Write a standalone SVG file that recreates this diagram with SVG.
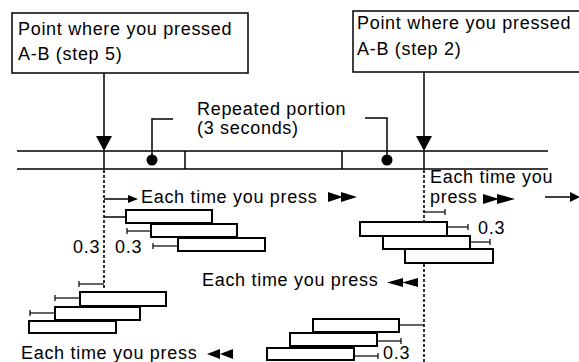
<svg xmlns="http://www.w3.org/2000/svg" width="579" height="362" viewBox="0 0 579 362">
<defs>
<style>
.t{font-family:"Liberation Sans",Arial,sans-serif;font-size:18px;letter-spacing:0.7px;fill:#000}
.box{fill:#fff;stroke:#000;stroke-width:1.5}
.bx{fill:#fff;stroke:#000;stroke-width:2}
.ln{stroke:#000;stroke-width:1.5;fill:none}
.dash{stroke:#000;stroke-width:1.6;stroke-dasharray:3 2;fill:none}
.tk{stroke:#000;stroke-width:1.2;fill:none}
.fill{fill:#000}
</style>
</defs>
<rect width="579" height="362" fill="#fff"/>

<g id="callout-step5">
<rect class="box" x="12" y="13" width="236" height="60"/>
<text class="t" x="18" y="35">Point where you pressed</text>
<text class="t" x="18" y="60">A-B (step 5)</text>
</g>
<g id="callout-step2">
<rect class="box" x="353" y="11" width="240" height="61"/>
<text class="t" x="357" y="29">Point where you pressed</text>
<text class="t" x="357" y="55">A-B (step 2)</text>
</g>
<g id="label-repeated">
<text class="t" x="197" y="115">Repeated portion</text>
<text class="t" x="197" y="134">(3 seconds)</text>
</g>

<g id="timeline-bar">
<line class="ln" x1="17" y1="151" x2="548" y2="151"/>
<line class="ln" x1="17" y1="169" x2="548" y2="169"/>
<line class="ln" x1="185" y1="151" x2="185" y2="169"/>
<line class="ln" x1="342" y1="151" x2="342" y2="169"/>
<line class="ln" x1="104" y1="151" x2="104" y2="169"/>
<line class="ln" x1="424" y1="151" x2="424" y2="169"/>
<circle class="fill" cx="152" cy="160" r="5.5"/>
<circle class="fill" cx="387" cy="160" r="5.5"/>
</g>

<g id="ff-left">
<rect class="bx" x="126" y="210" width="86" height="13"/>
<rect class="bx" x="151" y="224" width="86" height="13"/>
<rect class="bx" x="178" y="238" width="87" height="13"/>
<text class="t" x="141" y="203">Each time you press</text>
<polygon class="fill" points="328,192 343,197 328,202"/>
<polygon class="fill" points="341,192 357,197 341,202"/>
<text class="t" x="73" y="253">0.3</text>
<text class="t" x="115" y="253">0.3</text>
</g>

<g id="rew-left">
<rect class="bx" x="80" y="292" width="86" height="14"/>
<rect class="bx" x="55" y="307" width="85" height="13"/>
<rect class="bx" x="29" y="321" width="87" height="12"/>
<text class="t" x="21" y="359">Each time you press</text>
<polygon class="fill" points="220,349 207,354 220,359"/>
<polygon class="fill" points="233,349 220,354 233,359"/>
</g>

<g id="ff-right">
<rect class="bx" x="360" y="222" width="87" height="14"/>
<rect class="bx" x="383" y="236" width="87" height="13"/>
<rect class="bx" x="405" y="249" width="88" height="14"/>
<text class="t"><tspan x="430" y="183">Each time you</tspan><tspan x="430" y="203">press</tspan></text>
<polygon class="fill" points="483,194 499,199 483,204"/>
<polygon class="fill" points="497,194 515,199 497,204"/>
<text class="t" x="478" y="234">0.3</text>
</g>

<g id="rew-right">
<rect class="bx" x="313" y="319" width="86" height="13"/>
<rect class="bx" x="290" y="333" width="87" height="13"/>
<rect class="bx" x="267" y="348" width="87" height="12"/>
<text class="t" x="202" y="286">Each time you press</text>
<polygon class="fill" points="403,278 387,282.5 403,287"/>
<polygon class="fill" points="418,278 402,282.5 418,287"/>
<text class="t" x="383" y="359">0.3</text>
</g>

<g id="connectors">
<line class="ln" x1="104" y1="73" x2="104" y2="138"/>
<polygon class="fill" points="96,136 112,136 104,151"/>
<line class="ln" x1="424" y1="72" x2="424" y2="138"/>
<polygon class="fill" points="416,136 432,136 424,151"/>
<polyline class="ln" points="173,119 152,119 152,160"/>
<polyline class="ln" points="365,118 387,118 387,160"/>
<line class="dash" x1="104" y1="170" x2="104" y2="290"/>
<line class="dash" x1="424" y1="170" x2="424" y2="221"/>
<line class="dash" x1="424" y1="264" x2="424" y2="362"/>
<line class="ln" x1="104" y1="199" x2="130" y2="199"/>
<polygon class="fill" points="128,195 138,199 128,203"/>
<line class="ln" x1="104" y1="217" x2="126" y2="217"/>
<line class="tk" x1="127" y1="231" x2="151" y2="231"/>
<line class="tk" x1="127" y1="228" x2="127" y2="234"/>
<line class="tk" x1="153" y1="246" x2="178" y2="246"/>
<line class="tk" x1="153" y1="243" x2="153" y2="249"/>
<line class="tk" x1="79" y1="284" x2="104" y2="284"/>
<line class="tk" x1="79" y1="281" x2="79" y2="287"/>
<line class="tk" x1="55" y1="298" x2="80" y2="298"/>
<line class="tk" x1="55" y1="295" x2="55" y2="301"/>
<line class="tk" x1="30" y1="313" x2="55" y2="313"/>
<line class="tk" x1="30" y1="310" x2="30" y2="316"/>
<line class="ln" x1="545" y1="197" x2="572" y2="197"/>
<polygon class="fill" points="570,192 580,197 570,202"/>
<line class="tk" x1="424" y1="212" x2="445" y2="212"/>
<line class="tk" x1="445" y1="209" x2="445" y2="215"/>
<line class="tk" x1="447" y1="227" x2="468" y2="227"/>
<line class="tk" x1="468" y1="224" x2="468" y2="230"/>
<line class="tk" x1="470" y1="242" x2="490" y2="242"/>
<line class="tk" x1="490" y1="239" x2="490" y2="245"/>
<line class="tk" x1="399" y1="325" x2="424" y2="325"/>
<line class="tk" x1="377" y1="341" x2="401" y2="341"/>
<line class="tk" x1="401" y1="338" x2="401" y2="344"/>
<line class="tk" x1="354" y1="356" x2="378" y2="356"/>
<line class="tk" x1="378" y1="353" x2="378" y2="359"/>
</g>
</svg>
